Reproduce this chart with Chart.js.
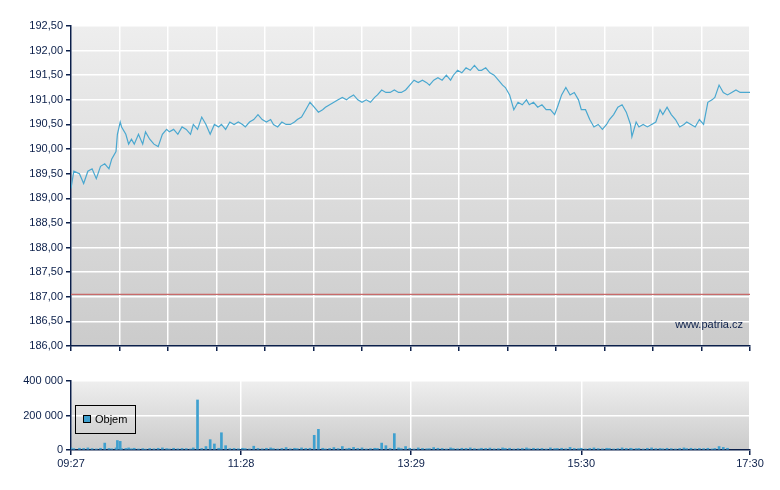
<!DOCTYPE html>
<html><head><meta charset="utf-8">
<script src="https://cdn.jsdelivr.net/npm/chart.js@4"></script>
<style>body{margin:0;background:#fff;width:780px;height:490px;position:relative;overflow:hidden}
canvas{position:absolute;left:0}</style></head><body>
<div style="position:absolute;left:0;top:0;width:780px;height:360px"><canvas id="c1"></canvas></div>
<div style="position:absolute;left:0;top:360px;width:780px;height:130px"><canvas id="c2"></canvas></div>
<script>
// minutes from 09:27
const priceTimes=[0,2,6,9,12,15,18,21,24,27,29,32,33,35,36,39,41,43,45,48,51,53,56,59,62,65,68,70,73,76,79,82,85,87,90,93,96,99,102,105,107,110,113,116,119,122,124,127,130,133,136,139,142,144,147,150,153,156,159,161,164,167,170,173,176,179,181,184,187,190,193,196,198,201,204,207,210,213,216,218,221,224,227,230,233,235,238,241,244,247,250,253,255,258,261,264,267,270,272,275,278,281,284,287,290,292,295,298,301,304,307,309,312,315,318,321,324,326,329,332,335,338,341,344,346,349,352,355,358,361,363,366,369,372,375,378,381,383,386,389,392,395,398,399,402,404,407,410,413,416,419,421,424,427,430,433,436,438,441,444,447,450,453,456,458,461,464,467,470,473,476,483];
const priceValues=[189.2,189.55,189.5,189.3,189.55,189.6,189.4,189.65,189.7,189.6,189.8,189.95,190.3,190.55,190.45,190.3,190.1,190.2,190.1,190.3,190.1,190.35,190.2,190.1,190.05,190.3,190.4,190.35,190.4,190.3,190.45,190.4,190.3,190.5,190.4,190.65,190.5,190.3,190.5,190.45,190.5,190.4,190.55,190.5,190.55,190.5,190.45,190.55,190.6,190.7,190.6,190.55,190.6,190.5,190.45,190.55,190.5,190.5,190.55,190.6,190.65,190.8,190.95,190.85,190.75,190.8,190.85,190.9,190.95,191.0,191.05,191.0,191.05,191.1,191.0,190.95,191.0,190.95,191.05,191.1,191.2,191.15,191.15,191.2,191.15,191.15,191.2,191.3,191.4,191.35,191.4,191.35,191.3,191.4,191.45,191.4,191.5,191.4,191.5,191.6,191.55,191.65,191.6,191.7,191.6,191.6,191.65,191.55,191.5,191.4,191.3,191.25,191.1,190.8,190.95,190.9,191.0,190.9,190.95,190.85,190.9,190.8,190.8,190.7,190.85,191.1,191.25,191.1,191.15,191.0,190.8,190.8,190.6,190.45,190.5,190.4,190.5,190.6,190.7,190.85,190.9,190.75,190.5,190.25,190.55,190.45,190.5,190.45,190.5,190.55,190.8,190.7,190.85,190.7,190.6,190.45,190.5,190.55,190.5,190.45,190.6,190.5,190.95,191.0,191.05,191.3,191.15,191.1,191.15,191.2,191.15,191.15];
const volumeValues=[12000,8000,10000,9000,12000,8000,6000,10000,40000,9000,7000,12000,55000,50000,8000,9000,12000,7000,10000,6000,8000,5000,9000,7000,10000,12000,8000,6000,10000,7000,9000,8000,6000,12000,290000,9000,20000,60000,35000,10000,100000,25000,8000,9000,7000,10000,8000,6000,22000,9000,7000,10000,12000,8000,6000,9000,14000,7000,10000,8000,12000,9000,10000,85000,120000,10000,6000,9000,14000,8000,20000,7000,10000,15000,9000,12000,6000,8000,10000,9000,40000,25000,9000,95000,12000,8000,20000,10000,6000,12000,9000,7000,8000,14000,10000,9000,6000,12000,8000,7000,10000,9000,12000,8000,6000,10000,9000,11000,7000,8000,12000,9000,10000,6000,8000,9000,12000,7000,10000,8000,9000,6000,12000,8000,9000,10000,7000,15000,9000,8000,10000,6000,9000,12000,8000,7000,10000,9000,6000,8000,12000,9000,10000,7000,8000,9000,6000,10000,12000,8000,9000,7000,10000,8000,6000,9000,12000,8000,10000,7000,9000,8000,10000,6000,9000,20000,15000,10000];
const priceTicks=[186,186.5,187,187.5,188,188.5,189,189.5,190,190.5,191,191.5,192,192.5];
const volumeTicks=[0,200000,400000];
const timeTickMinutes=[0,121,242,363,483];
const timeTickLabels=['09:27','11:28','13:29','15:30','17:30'];
const referenceLevel=187.05;

const navy='#0b1f4a';
const font={family:'Liberation Sans, Arial',size:11};
const bgPlugin={id:'bg',beforeDraw(ch){const a=ch.chartArea,c=ch.ctx;const g=c.createLinearGradient(0,a.top,0,a.bottom);g.addColorStop(0,'#eeeeee');g.addColorStop(1,'#cbcbcb');c.save();c.fillStyle=g;c.fillRect(a.left,a.top,a.right-a.left,a.bottom-a.top);c.restore();}};
function fmtPrice(v){return v.toFixed(2).replace('.',',');}
function fmtVol(v){return v===0?'0':String(v).replace(/\B(?=(\d{3})+(?!\d))/g,' ');}

new Chart(document.getElementById('c1'),{type:'line',
data:{datasets:[{data:priceTimes.map((t,i)=>({x:t,y:priceValues[i]})),borderColor:'#4aa8d0',borderWidth:1.2,pointRadius:0,tension:0},
{data:[{x:0,y:referenceLevel},{x:483,y:referenceLevel}],borderColor:'#c86a6a',borderWidth:1.2,pointRadius:0}]},
options:{animation:false,responsive:true,maintainAspectRatio:false,layout:{padding:{top:26,right:30,left:0,bottom:0}},
plugins:{legend:{display:false},tooltip:{enabled:false}},
scales:{x:{type:'linear',min:0,max:483,afterBuildTicks(s){s.ticks=[];for(let i=0;i<=14;i++)s.ticks.push({value:i*483/14});},
 grid:{color:'#ffffff',lineWidth:1.5,tickLength:5,tickColor:navy},border:{color:navy,width:1.5},ticks:{display:false},afterFit(s){s.height=14;}},
 y:{min:186,max:192.5,afterBuildTicks(s){s.ticks=priceTicks.map(v=>({value:v}));},
 grid:{color:'#ffffff',lineWidth:1.5,tickLength:5,tickColor:navy},border:{color:navy,width:1.5},
 ticks:{color:navy,font,padding:3,callback:v=>fmtPrice(v)},afterFit(s){s.width=71;}}}},
plugins:[bgPlugin,{id:'wm',afterDraw(ch){const c=ch.ctx,a=ch.chartArea;c.save();c.font='11px Liberation Sans, Arial';c.fillStyle=navy;c.textAlign='right';c.fillText('www.patria.cz',a.right-7,a.bottom-18);c.restore();}}]});

new Chart(document.getElementById('c2'),{type:'bar',
data:{datasets:[{data:priceTimes.map((t,i)=>({x:t,y:volumeValues[i]})),backgroundColor:'#3fa0cf',barThickness:2}]},
options:{animation:false,responsive:true,maintainAspectRatio:false,layout:{padding:{top:21,right:30,left:0,bottom:0}},
plugins:{legend:{display:false},tooltip:{enabled:false}},
scales:{x:{type:'linear',min:0,max:483,offset:false,afterBuildTicks(s){s.ticks=timeTickMinutes.map(v=>({value:v}));},
 grid:{color:'#ffffff',lineWidth:1.5,tickLength:5,tickColor:navy,offset:false},border:{color:navy,width:1.5},
 ticks:{color:navy,font,maxRotation:0,padding:2,callback:(v)=>{const i=timeTickMinutes.indexOf(v);return i>=0?timeTickLabels[i]:'';}},afterFit(s){s.height=40;}},
 y:{min:0,max:400000,afterBuildTicks(s){s.ticks=volumeTicks.map(v=>({value:v}));},
 grid:{color:'#ffffff',lineWidth:1.5,tickLength:5,tickColor:navy},border:{color:navy,width:1.5},
 ticks:{color:navy,font,padding:3,callback:v=>fmtVol(v)},afterFit(s){s.width=71;}}}},
plugins:[bgPlugin,{id:'lg',afterDraw(ch){const c=ch.ctx;c.save();c.strokeStyle='#000';c.lineWidth=1;c.strokeRect(75.5,45.5,60,28);c.fillStyle='#3fa0cf';c.fillRect(83,55,8,8);c.strokeRect(83.5,55.5,7,7);c.fillStyle='#000';c.font='11px Liberation Sans, Arial';c.textBaseline='middle';c.fillText('Objem',95,60);c.restore();}}]});
</script></body></html>
